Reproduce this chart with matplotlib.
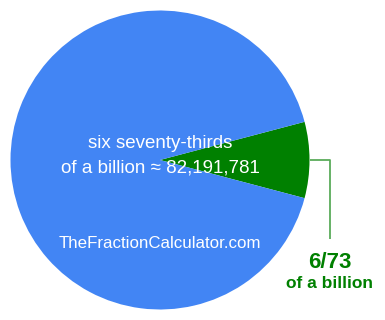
import matplotlib
matplotlib.use("Agg")
import matplotlib.pyplot as plt

# fraction of a billion
numerator = 6
denominator = 73
slice_values = [numerator, denominator - numerator]
slice_colors = ["#008000", "#4285f4"]
center_text = ["six seventy-thirds", "of a billion \u2248 82,191,781"]
site_text = "TheFractionCalculator.com"
label_text = ["6/73", "of a billion"]

plt.rcParams["font.family"] = ["Liberation Sans", "DejaVu Sans"]

fig = plt.figure(figsize=(3.85, 3.2), dpi=100)
ax = fig.add_axes([0, 0, 1, 1])

# pixel-like coordinates, y downwards
cx, cy, r = 160, 160, 149.5
half = 360 * numerator / denominator / 2
ax.pie(slice_values, colors=slice_colors, startangle=-half, counterclock=True,
       center=(cx, cy), radius=r, wedgeprops=dict(linewidth=0))

ax.set_xlim(0, 385)
ax.set_ylim(320, 0)
ax.set_aspect("equal")
ax.axis("off")

ax.text(cx, 144, center_text[0], color="white", fontsize=13.5,
        ha="center", va="center")
ax.text(cx, 168, center_text[1], color="white", fontsize=13.5,
        ha="center", va="center")
ax.text(cx, 244, site_text, color="white", fontsize=12.2,
        ha="center", va="center")

# leader line to label
ax.plot([cx + r, 330, 330], [160, 160, 239], color="#5aab5a", lw=1.3,
        solid_capstyle="butt")
ax.text(330, 263, label_text[0], color="#008000", fontsize=16,
        fontweight="bold", ha="center", va="center")
ax.text(330, 284, label_text[1], color="#008000", fontsize=12.5,
        fontweight="bold", ha="center", va="center")

fig.savefig("out.png", dpi=100)
